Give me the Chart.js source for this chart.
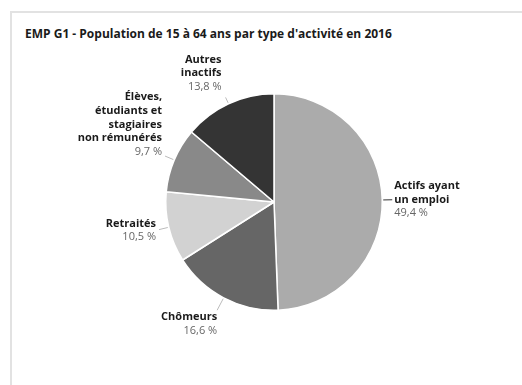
<!DOCTYPE html>
<html lang="fr">
<head>
<meta charset="utf-8">
<script src="https://cdn.jsdelivr.net/npm/chart.js@4"></script>
<style>
  html, body { margin: 0; padding: 0; background: #fff; }
  body { width: 522px; height: 385px; position: relative; overflow: hidden; font-family: "Open Sans", sans-serif; }
  .card { position: absolute; left: 10px; top: 11px; width: 600px; height: 500px; border-top: 2px solid #e2e2e2; border-left: 2px solid #e2e2e2; }
  .title { position: absolute; left: 25px; top: 25px; font-weight: bold; font-size: 12px; color: #1a1a1a; white-space: nowrap; }
  #pie { position: absolute; left: 0; top: 0; }
</style>
</head>
<body>
<div class="card"></div>
<div class="title">EMP G1 - Population de 15 à 64 ans par type d'activité en 2016</div>
<canvas id="pie" width="522" height="385"></canvas>
<script>
// -------------------------------
// Data
// -------------------------------
const categories = [
  ['Actifs ayant', 'un emploi'],
  ['Chômeurs'],
  ['Retraités'],
  ['Élèves,', 'étudiants et', 'stagiaires', 'non rémunérés'],
  ['Autres', 'inactifs']
];
const shares = [49.4, 16.6, 10.5, 9.7, 13.8];
const sliceColors = ['#ababab', '#666666', '#d2d2d2', '#898989', '#343434'];

// label placement per slice: leader length, text side, offset of first line from leader end
const labelPlacement = [
  { len: 10, align: 'left',  dx: 2,  dy: -14, line: '#333' },
  { len: 14, align: 'right', dx: 0,  dy: 7,   line: '#bbb' },
  { len: 10, align: 'right', dx: -3, dy: -6,  line: '#bbb' },
  { len: 10, align: 'right', dx: -3, dy: -59, line: '#bbb' },
  { len: 7,  align: 'right', dx: -4, dy: -38, line: '#bbb' }
];

const fmt = v => v.toFixed(1).replace('.', ',') + ' %';

// -------------------------------
// Outside labels with leader lines
// -------------------------------
const outsideLabels = {
  id: 'outsideLabels',
  afterDatasetsDraw(chart) {
    const ctx = chart.ctx;
    const meta = chart.getDatasetMeta(0);
    const lh = 13.7;
    meta.data.forEach((arc, i) => {
      const p = labelPlacement[i];
      const mid = (arc.startAngle + arc.endAngle) / 2;
      const r = arc.outerRadius;
      const x0 = arc.x + Math.cos(mid) * (r + 1);
      const y0 = arc.y + Math.sin(mid) * (r + 1);
      const x1 = arc.x + Math.cos(mid) * (r + p.len);
      const y1 = arc.y + Math.sin(mid) * (r + p.len);

      ctx.save();
      ctx.strokeStyle = p.line;
      ctx.lineWidth = 1;
      ctx.beginPath();
      ctx.moveTo(x0, y0);
      ctx.lineTo(x1, y1);
      ctx.stroke();

      ctx.textAlign = p.align;
      ctx.textBaseline = 'middle';
      const tx = x1 + p.dx;
      let ty = y1 + p.dy;
      ctx.fillStyle = '#1a1a1a';
      ctx.font = 'bold 11px "Open Sans"';
      categories[i].forEach(t => { ctx.fillText(t, tx, ty); ty += lh; });
      ctx.fillStyle = '#666';
      ctx.font = '11px "Open Sans"';
      ctx.fillText(fmt(shares[i]), tx, ty);
      ctx.restore();
    });
  }
};

// -------------------------------
// Chart.js
// -------------------------------
new Chart(document.getElementById('pie'), {
  type: 'pie',
  data: {
    labels: categories.map(c => c.join(' ')),
    datasets: [{
      data: shares,
      backgroundColor: sliceColors,
      borderColor: '#ffffff',
      borderWidth: 1.5,
      hoverOffset: 0
    }]
  },
  options: {
    responsive: false,
    animation: false,
    layout: { padding: { left: 165, top: 93, right: 139, bottom: 74 } },
    plugins: { legend: { display: false }, tooltip: { enabled: false } }
  },
  plugins: [outsideLabels]
});
</script>
</body>
</html>
